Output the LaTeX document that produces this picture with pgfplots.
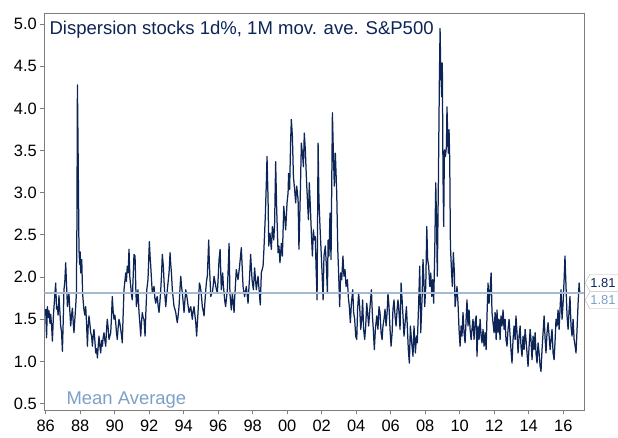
\documentclass[border=0pt]{standalone}
\usepackage{pgfplots}
\pgfplotsset{compat=1.18}
\usepackage{fontspec}
\setmainfont{Liberation Sans}
\usetikzlibrary{shapes.symbols}
\definecolor{navy}{RGB}{12,36,86}
\definecolor{meanline}{RGB}{165,186,210}
\definecolor{meantext}{RGB}{125,160,200}
\definecolor{axgray}{RGB}{125,125,125}
\definecolor{taggray}{RGB}{180,180,180}
\pgfplotstableread{
x y
1986.00 1.62
1986.05 1.28
1986.10 1.65
1986.15 1.52
1986.19 1.60
1986.25 1.45
1986.29 1.56
1986.35 1.40
1986.39 1.24
1986.45 1.55
1986.50 1.70
1986.58 1.93
1986.63 1.62
1986.68 1.65
1986.72 1.55
1986.77 1.78
1986.82 1.60
1986.87 1.42
1986.92 1.35
1986.97 1.12
1987.02 1.50
1987.06 1.85
1987.11 1.95
1987.16 2.17
1987.21 1.90
1987.26 1.65
1987.30 1.72
1987.35 1.81
1987.40 1.60
1987.45 1.42
1987.50 1.55
1987.55 1.63
1987.60 1.45
1987.64 1.34
1987.69 1.50
1987.74 1.65
1987.78 1.81
1987.81 2.60
1987.84 4.28
1987.86 3.90
1987.89 3.27
1987.93 2.33
1987.97 2.15
1988.00 2.30
1988.03 2.05
1988.06 2.15
1988.09 2.21
1988.14 1.81
1988.18 1.70
1988.22 1.61
1988.27 1.55
1988.32 1.65
1988.37 1.45
1988.42 1.18
1988.46 1.40
1988.51 1.54
1988.56 1.45
1988.61 1.34
1988.66 1.30
1988.71 1.18
1988.75 1.30
1988.80 1.38
1988.85 1.25
1988.90 1.10
1988.95 1.15
1989.00 1.04
1989.05 1.20
1989.09 1.30
1989.14 1.18
1989.19 1.10
1989.24 1.25
1989.29 1.18
1989.33 1.28
1989.38 1.34
1989.43 1.25
1989.48 1.18
1989.52 1.35
1989.57 1.50
1989.62 1.40
1989.67 1.26
1989.72 1.30
1989.77 1.34
1989.82 1.55
1989.86 1.77
1989.91 1.60
1989.96 1.50
1990.01 1.55
1990.06 1.46
1990.10 1.35
1990.15 1.26
1990.20 1.40
1990.25 1.50
1990.30 1.45
1990.35 1.38
1990.40 1.30
1990.44 1.22
1990.49 1.55
1990.54 1.85
1990.59 1.95
1990.64 2.05
1990.68 1.95
1990.73 2.13
1990.78 2.05
1990.83 2.33
1990.88 2.00
1990.93 1.89
1990.97 1.80
1991.02 1.73
1991.07 2.00
1991.12 2.27
1991.18 2.25
1991.22 1.90
1991.26 1.65
1991.31 1.75
1991.35 1.85
1991.41 1.58
1991.46 1.45
1991.51 1.30
1991.55 1.45
1991.60 1.58
1991.65 1.52
1991.70 1.50
1991.76 1.30
1991.81 1.60
1991.86 1.85
1991.93 1.97
1991.97 2.20
1992.01 2.42
1992.05 2.25
1992.09 2.13
1992.14 1.95
1992.18 1.81
1992.23 1.85
1992.28 1.89
1992.33 1.75
1992.38 1.69
1992.43 1.75
1992.47 1.77
1992.52 1.65
1992.57 1.58
1992.62 1.70
1992.67 1.85
1992.72 2.05
1992.76 2.27
1992.82 2.13
1992.86 1.95
1992.90 1.81
1992.96 1.65
1993.00 1.75
1993.05 1.85
1993.10 1.95
1993.15 2.05
1993.21 2.29
1993.25 2.15
1993.29 2.05
1993.34 1.85
1993.39 1.75
1993.44 1.65
1993.49 1.62
1993.54 1.58
1993.58 1.52
1993.63 1.46
1993.68 1.55
1993.73 1.65
1993.78 1.85
1993.83 2.01
1993.87 1.90
1993.92 1.81
1993.97 1.70
1994.02 1.58
1994.07 1.72
1994.12 1.85
1994.16 1.80
1994.21 1.73
1994.26 1.65
1994.31 1.58
1994.36 1.62
1994.41 1.65
1994.45 1.58
1994.50 1.50
1994.55 1.60
1994.60 1.65
1994.65 1.55
1994.70 1.46
1994.75 1.30
1994.79 1.45
1994.83 1.58
1994.87 1.75
1994.91 1.93
1994.95 1.90
1994.99 1.85
1995.04 1.75
1995.08 1.65
1995.13 1.60
1995.18 1.54
1995.23 1.70
1995.28 1.85
1995.32 1.95
1995.37 2.01
1995.45 2.44
1995.48 2.20
1995.51 2.05
1995.57 1.77
1995.61 1.80
1995.66 1.81
1995.71 1.90
1995.76 2.01
1995.81 1.95
1995.86 1.89
1995.90 1.85
1995.95 1.81
1996.00 2.00
1996.05 2.21
1996.11 2.33
1996.15 2.05
1996.18 1.85
1996.22 1.95
1996.26 2.05
1996.30 1.90
1996.34 1.81
1996.38 1.72
1996.43 1.65
1996.48 1.75
1996.53 1.85
1996.58 2.10
1996.63 2.40
1996.68 1.81
1996.72 1.70
1996.76 1.61
1996.82 1.81
1996.87 1.70
1996.92 1.58
1996.95 1.73
1997.05 2.09
1997.15 1.97
1997.24 2.13
1997.34 2.35
1997.44 1.89
1997.53 1.77
1997.63 1.89
1997.73 1.69
1997.82 2.01
1997.88 2.27
1997.96 1.97
1998.04 1.85
1998.11 2.11
1998.21 1.85
1998.31 2.01
1998.40 1.77
1998.44 1.67
1998.50 2.05
1998.60 2.13
1998.65 2.33
1998.73 2.72
1998.79 3.12
1998.83 3.43
1998.89 2.92
1998.93 2.37
1999.00 2.52
1999.08 2.33
1999.14 2.60
1999.22 2.44
1999.27 2.64
1999.33 3.37
1999.39 2.80
1999.47 2.29
1999.52 2.37
1999.58 2.17
1999.66 2.40
1999.72 2.25
1999.80 2.84
1999.85 2.72
1999.91 2.56
1999.99 2.88
2000.05 3.00
2000.08 3.23
2000.14 3.04
2000.20 3.63
2000.24 3.87
2000.30 3.67
2000.36 3.19
2000.43 3.04
2000.49 2.88
2000.55 3.08
2000.63 2.92
2000.68 2.33
2000.76 3.00
2000.82 3.59
2000.88 3.47
2000.94 3.31
2000.99 3.71
2001.05 3.51
2001.11 3.19
2001.17 2.92
2001.23 2.68
2001.28 3.12
2001.34 2.84
2001.40 2.52
2001.46 2.25
2001.52 2.56
2001.57 2.44
2001.63 2.48
2001.67 2.13
2001.73 1.73
2001.79 3.59
2001.84 2.92
2001.90 2.60
2001.96 2.33
2002.02 2.05
2002.08 1.73
2002.13 2.25
2002.21 2.37
2002.27 2.13
2002.33 1.81
2002.37 2.44
2002.42 2.25
2002.48 2.76
2002.54 2.21
2002.62 3.95
2002.67 3.51
2002.73 3.08
2002.79 3.47
2002.87 3.00
2002.93 2.33
2002.98 2.05
2003.04 1.65
2003.10 2.05
2003.16 1.97
2003.23 2.25
2003.29 2.01
2003.35 2.09
2003.41 1.89
2003.49 1.97
2003.54 1.77
2003.60 1.65
2003.66 1.46
2003.72 1.69
2003.80 1.85
2003.85 1.58
2003.91 1.50
2003.97 1.30
2004.03 1.26
2004.08 1.62
2004.14 1.81
2004.20 1.65
2004.26 1.38
2004.32 1.50
2004.37 1.73
2004.43 1.38
2004.49 1.26
2004.55 1.42
2004.61 1.69
2004.66 1.58
2004.72 1.42
2004.80 1.65
2004.88 1.85
2004.94 1.54
2004.99 1.38
2005.05 1.14
2005.11 1.38
2005.19 1.54
2005.26 1.38
2005.32 1.65
2005.38 1.58
2005.44 1.34
2005.50 1.26
2005.55 1.42
2005.61 1.50
2005.67 1.62
2005.73 1.42
2005.79 1.58
2005.84 1.81
2005.90 1.65
2005.96 1.38
2006.02 1.18
2006.08 1.34
2006.13 1.62
2006.19 1.73
2006.25 1.54
2006.31 1.42
2006.37 1.62
2006.42 1.73
2006.48 1.58
2006.54 1.38
2006.60 1.93
2006.66 1.73
2006.71 1.54
2006.77 1.30
2006.85 1.50
2006.91 1.65
2006.96 1.42
2007.02 1.14
2007.08 0.98
2007.14 1.42
2007.20 1.26
2007.29 1.06
2007.35 1.42
2007.43 1.10
2007.49 1.30
2007.54 1.22
2007.62 1.69
2007.68 2.13
2007.74 1.34
2007.82 1.77
2007.87 2.21
2007.93 1.93
2007.97 1.65
2008.03 1.89
2008.09 2.60
2008.14 2.21
2008.20 2.13
2008.26 1.89
2008.32 2.05
2008.38 1.77
2008.43 1.97
2008.49 1.69
2008.55 2.29
2008.61 3.12
2008.66 2.60
2008.70 2.01
2008.76 3.08
2008.82 4.34
2008.86 4.95
2008.90 4.46
2008.955 4.14
2008.99 4.54
2009.03 3.20
2009.07 2.60
2009.11 3.51
2009.17 3.43
2009.23 3.55
2009.26 4.02
2009.30 3.71
2009.34 3.47
2009.38 3.75
2009.42 3.39
2009.46 2.37
2009.52 2.09
2009.57 1.89
2009.63 2.29
2009.69 2.05
2009.73 1.65
2009.79 1.77
2009.84 1.89
2009.90 1.69
2009.96 1.38
2010.02 1.18
2010.08 1.42
2010.13 1.30
2010.19 1.58
2010.25 1.34
2010.31 1.22
2010.37 1.50
2010.42 1.73
2010.48 1.42
2010.54 1.61
2010.60 1.38
2010.66 1.26
2010.71 1.38
2010.77 1.50
2010.83 1.26
2010.89 1.46
2010.95 1.54
2011.00 1.06
2011.06 1.42
2011.12 1.26
2011.18 1.50
2011.24 1.30
2011.29 1.22
2011.35 1.38
2011.41 1.18
2011.47 1.34
2011.53 1.14
2011.58 1.54
2011.64 1.93
2011.70 1.69
2011.76 1.85
2011.82 2.05
2011.87 1.58
2011.93 1.46
2011.99 1.34
2012.05 1.58
2012.11 1.26
2012.16 1.61
2012.22 1.34
2012.28 1.50
2012.34 1.26
2012.39 1.54
2012.45 1.42
2012.51 1.61
2012.57 1.38
2012.63 1.50
2012.68 1.26
2012.74 1.18
2012.80 1.38
2012.86 1.50
2012.92 1.30
2012.97 1.14
2013.03 0.98
2013.09 1.26
2013.15 1.42
2013.21 1.26
2013.26 1.54
2013.32 1.34
2013.38 1.10
2013.44 1.30
2013.50 1.42
2013.55 1.18
2013.61 1.06
2013.67 1.30
2013.73 1.14
2013.79 1.38
2013.84 1.26
2013.90 1.10
2013.96 0.94
2014.02 1.18
2014.08 1.38
2014.13 1.26
2014.19 1.02
2014.25 1.30
2014.31 1.14
2014.37 1.34
2014.42 1.10
2014.48 0.98
2014.54 1.22
2014.60 1.10
2014.66 0.94
2014.71 0.88
2014.77 1.14
2014.83 1.34
2014.89 1.54
2014.95 1.26
2015.00 1.10
2015.06 1.34
2015.12 1.46
2015.18 1.30
2015.24 1.14
2015.29 1.26
2015.35 1.38
2015.41 1.10
2015.47 1.02
2015.53 1.26
2015.58 1.50
2015.64 1.42
2015.70 1.61
2015.76 1.38
2015.82 1.65
2015.87 1.85
2015.93 1.50
2015.99 1.69
2016.05 1.97
2016.10 2.25
2016.16 1.89
2016.22 1.54
2016.28 1.38
2016.34 1.61
2016.39 1.77
2016.45 1.42
2016.51 1.30
2016.57 1.50
2016.63 1.26
2016.69 1.18
2016.74 1.10
2016.80 1.38
2016.86 1.69
2016.92 1.93
2016.96 1.81
}\dispersion
\begin{document}
\begin{tikzpicture}
\begin{axis}[
  at={(0,0)}, anchor=south west,
  width=540bp, height=397bp, scale only axis,
  xmin=1985.92, xmax=2017.22,
  ymin=0.42, ymax=5.13,
  xtick={1986,1988,...,2016},
  xticklabels={86,88,90,92,94,96,98,00,02,04,06,08,10,12,14,16},
  ytick={0.5,1,...,5},
  yticklabel style={/pgf/number format/.cd,fixed,fixed zerofill,precision=1},
  /pgf/number format/assume math mode=true,
  tick label style={font=\fontsize{16.5}{18}\selectfont, text=black},
  xticklabel style={yshift=-2bp},
  xtick pos=bottom, ytick pos=left,
  tick align=outside,
  major tick length=4bp,
  tick style={axgray, line width=1bp},
  axis line style={axgray, line width=1.3bp},
  clip=true,
]
\addplot[navy, line width=1.25bp, line join=round] table[x=x,y=y] {\dispersion};
\addplot[meanline, line width=1.3bp] coordinates {(1985.92,1.81) (2017.22,1.81)};
\node[anchor=base west, text=navy, font=\fontsize{18.6}{21}\selectfont, inner sep=0pt] at (axis description cs:0.0093,0.946) {Dispersion stocks 1d\%, 1M mov. ave. S\&P500};
\node[anchor=base west, text=meantext, font=\fontsize{18.5}{20}\selectfont, inner sep=0pt] at (axis description cs:0.041,0.0139) {Mean Average};
\end{axis}
\node[signal, signal to=west, signal pointer angle=120, draw=taggray, fill=white, text=navy, font=\fontsize{13}{14}\selectfont, inner xsep=0.5bp, inner ysep=1.5bp, minimum height=17bp, anchor=west, align=left] at (540.5bp,127.5bp) {1.81\hspace{12bp}};
\node[signal, signal to=west, signal pointer angle=120, draw=taggray, fill=white, text=meantext, font=\fontsize{13}{14}\selectfont, inner xsep=0.5bp, inner ysep=1.5bp, minimum height=17bp, anchor=west, align=left] at (540.5bp,110bp) {1.81\hspace{12bp}};
\pgfresetboundingbox
\useasboundingbox (-44.3bp,-27.5bp) rectangle (573.7bp,410.3bp);
\end{tikzpicture}
\end{document}
